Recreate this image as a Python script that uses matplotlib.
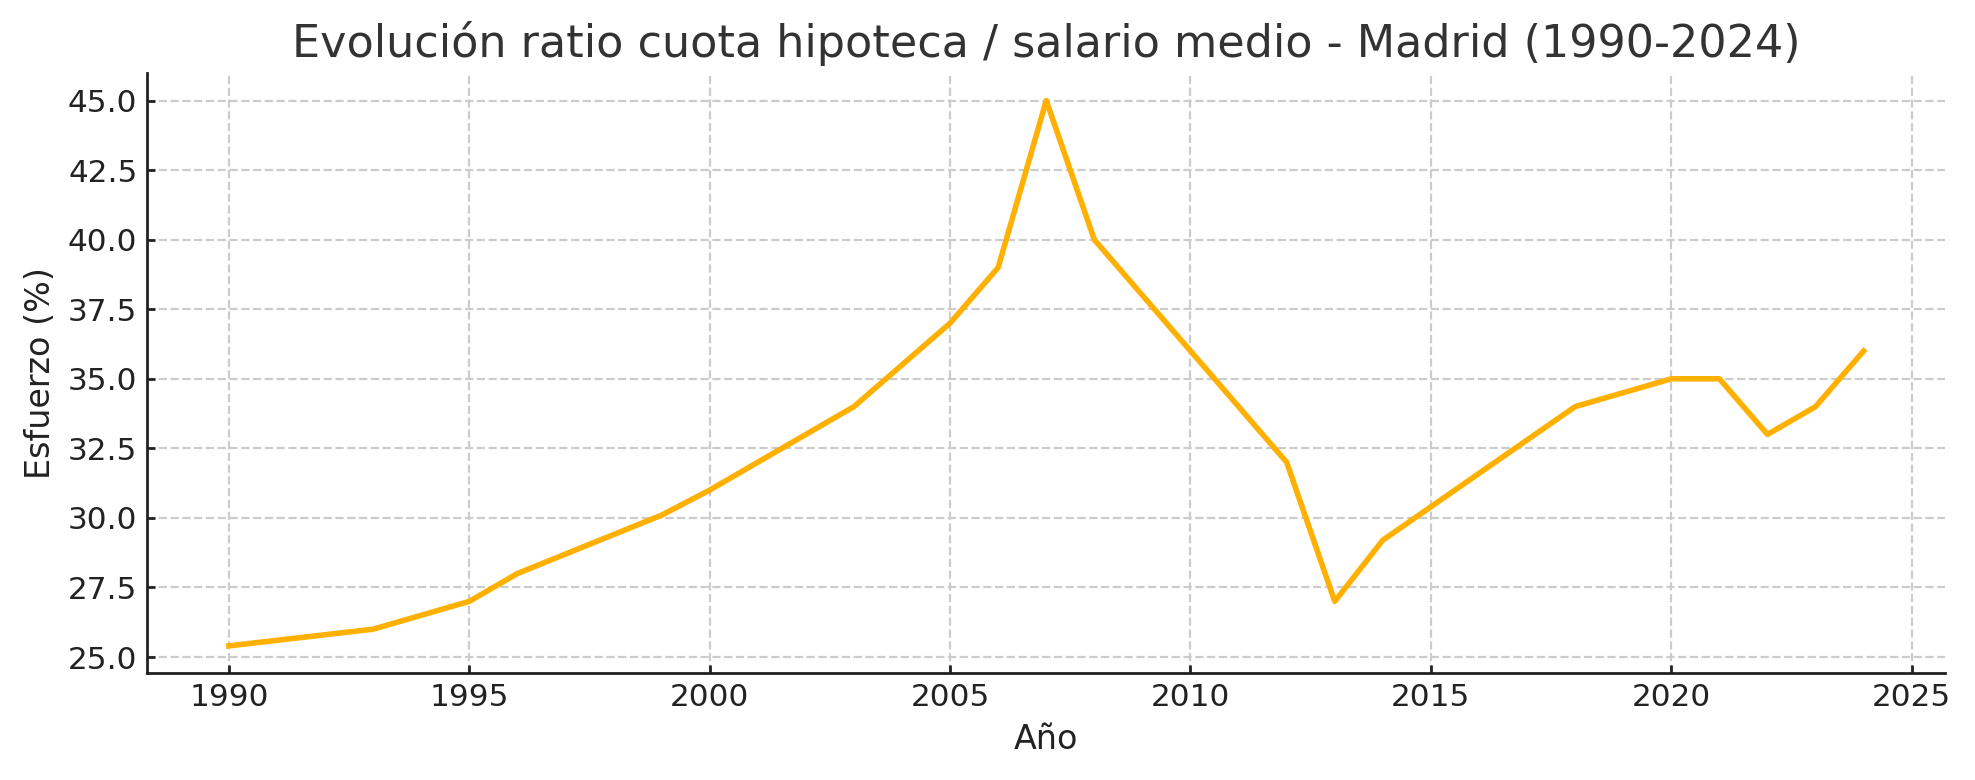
import matplotlib.pyplot as plt

# === Datos ===
years = [1990, 1993, 1995, 1996, 1999, 2000, 2003, 2005, 2006, 2007,
         2008, 2012, 2013, 2014, 2018, 2020, 2021, 2022, 2023, 2024]
esfuerzo = [25.4, 26.0, 27.0, 28.0, 30.1, 31.0, 34.0, 37.0, 39.0, 45.0,
            40.0, 32.0, 27.0, 29.2, 34.0, 35.0, 35.0, 33.0, 34.0, 36.0]

# === Gráfico ===
fig = plt.figure(figsize=(9.875, 3.9), dpi=200)
ax = fig.add_axes([0.0745, 0.137, 0.9105, 0.769])

ax.plot(years, esfuerzo, color="#FFB000", linewidth=2.0)

ax.set_title("Evolución ratio cuota hipoteca / salario medio - Madrid (1990-2024)",
             fontsize=16, color="#333333", pad=6)
ax.set_xlabel("Año", fontsize=12, color="#222222")
ax.set_ylabel("Esfuerzo (%)", fontsize=12, color="#222222")
ax.tick_params(labelsize=11.2, colors="#222222", direction="in", length=3, width=1.0)
ax.grid(True, linestyle="--", color="#cccccc", linewidth=0.8)
ax.spines["top"].set_visible(False)
ax.spines["right"].set_visible(False)
for s in ("left", "bottom"):
    ax.spines[s].set_color("#222222")
    ax.spines[s].set_linewidth(1.0)

fig.savefig("out.png", dpi=200)
